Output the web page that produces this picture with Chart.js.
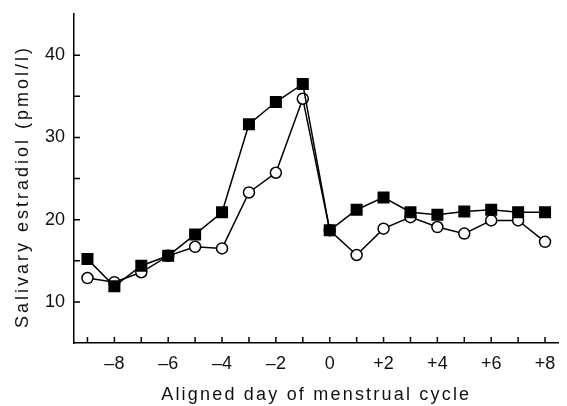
<!DOCTYPE html>
<html lang="en">
<head>
<meta charset="UTF-8">
<title>Salivary estradiol</title>
<script src="https://cdn.jsdelivr.net/npm/chart.js"></script>
<style>
  body { margin: 0; background: #fff; }
  #wrap { width: 567px; height: 406px; }
</style>
</head>
<body>
<div id="wrap"><canvas id="chart"></canvas></div>
<script>
// aligned day of cycle
const days = [-9, -8, -7, -6, -5, -4, -3, -2, -1, 0, 1, 2, 3, 4, 5, 6, 7, 8];
// filled squares
const squares = [15.2, 11.9, 14.4, 15.6, 18.2, 20.9, 31.6, 34.3, 36.5, 18.7, 21.2, 22.7, 20.9, 20.6, 21.0, 21.2, 20.9, 20.9];
// open circles
const circles = [12.9, 12.4, 13.6, 15.6, 16.7, 16.5, 23.3, 25.7, 34.7, 18.7, 15.7, 18.9, 20.3, 19.1, 18.3, 19.9, 19.9, 17.3];
const yLabels = [10, 20, 30, 40];

const toPoints = vals => days.map((d, i) => ({ x: d, y: vals[i] }));

function dayLabel(v) {
  if (v % 2 !== 0) return '';
  if (v > 0) return '+' + v;
  if (v < 0) return '\u2013' + Math.abs(v);
  return '0';
}

// the axis titles in the original are set with wide tracking
function spacedTitle(spacing, shift) {
  return s => {
    if (s._spaced) return;
    s._spaced = true;
    const orig = s.drawTitle;
    s.drawTitle = function () {
      const c = this.ctx;
      c.save();
      c.letterSpacing = spacing;
      c.translate(0, shift);
      orig.apply(this, arguments);
      c.restore();
    };
  };
}

// short tick marks drawn inside the axes
const innerTicks = {
  id: 'innerTicks',
  beforeDatasetsDraw(chart) {
    const { ctx, chartArea, scales } = chart;
    ctx.save();
    ctx.strokeStyle = '#000';
    ctx.lineWidth = 1.5;
    ctx.beginPath();
    scales.x.ticks.forEach(t => {
      const px = scales.x.getPixelForValue(t.value);
      ctx.moveTo(px, chartArea.bottom);
      ctx.lineTo(px, chartArea.bottom - 6);
    });
    scales.y.ticks.forEach(t => {
      if (t.value < 10 || t.value > 40) return;
      const py = scales.y.getPixelForValue(t.value);
      ctx.moveTo(chartArea.left, py);
      ctx.lineTo(chartArea.left + 6, py);
    });
    ctx.stroke();
    ctx.restore();
  }
};

const family = '"Liberation Sans", Arial, sans-serif';
const tickFont = { family, size: 18 };
const titleFont = { family, size: 18 };

new Chart(document.getElementById('chart'), {
  type: 'line',
  data: {
    datasets: [
      {
        data: toPoints(squares),
        borderColor: '#000',
        borderWidth: 1.5,
        pointStyle: 'rect',
        pointRadius: 8.5,
        pointBackgroundColor: '#000',
        pointBorderColor: '#000',
        pointBorderWidth: 0,
        tension: 0
      },
      {
        data: toPoints(circles),
        borderColor: '#000',
        borderWidth: 1.5,
        pointStyle: 'circle',
        pointRadius: 5.5,
        pointBackgroundColor: '#fff',
        pointBorderColor: '#000',
        pointBorderWidth: 1.5,
        tension: 0
      }
    ]
  },
  options: {
    responsive: true,
    maintainAspectRatio: false,
    animation: false,
    layout: { padding: { top: 14, right: 0, left: 0, bottom: 0 } },
    plugins: { legend: { display: false }, tooltip: { enabled: false } },
    scales: {
      x: {
        type: 'linear',
        min: -9.5,
        max: 8.5,
        grid: { drawOnChartArea: false, drawTicks: false },
        border: { display: true, color: '#000', width: 1.5 },
        afterBuildTicks: s => { s.ticks = days.map(v => ({ value: v })); },
        ticks: {
          autoSkip: false,
          maxRotation: 0,
          padding: 10,
          color: '#111',
          font: tickFont,
          callback: v => dayLabel(v)
        },
        title: {
          display: true,
          text: 'Aligned day of menstrual cycle',
          color: '#111',
          font: titleFont,
          padding: { top: 0, bottom: 0 }
        },
        afterFit: s => { s.height = 63; spacedTitle('2.2px', 0)(s); }
      },
      y: {
        min: 5,
        max: 45,
        grid: { drawOnChartArea: false, drawTicks: false },
        border: { display: true, color: '#000', width: 1.5 },
        ticks: {
          stepSize: 5,
          padding: 9,
          color: '#111',
          font: tickFont,
          callback: v => yLabels.includes(v) ? v : ''
        },
        title: {
          display: true,
          text: 'Salivary estradiol (pmol/l)',
          color: '#111',
          font: titleFont,
          padding: { top: 12, bottom: 0 }
        },
        afterFit: s => {
          s.width = 74;
          s.paddingTop = 0;
          s.paddingBottom = 0;
          spacedTitle('3px', 8)(s);
        }
      }
    }
  },
  plugins: [innerTicks]
});
</script>
</body>
</html>
